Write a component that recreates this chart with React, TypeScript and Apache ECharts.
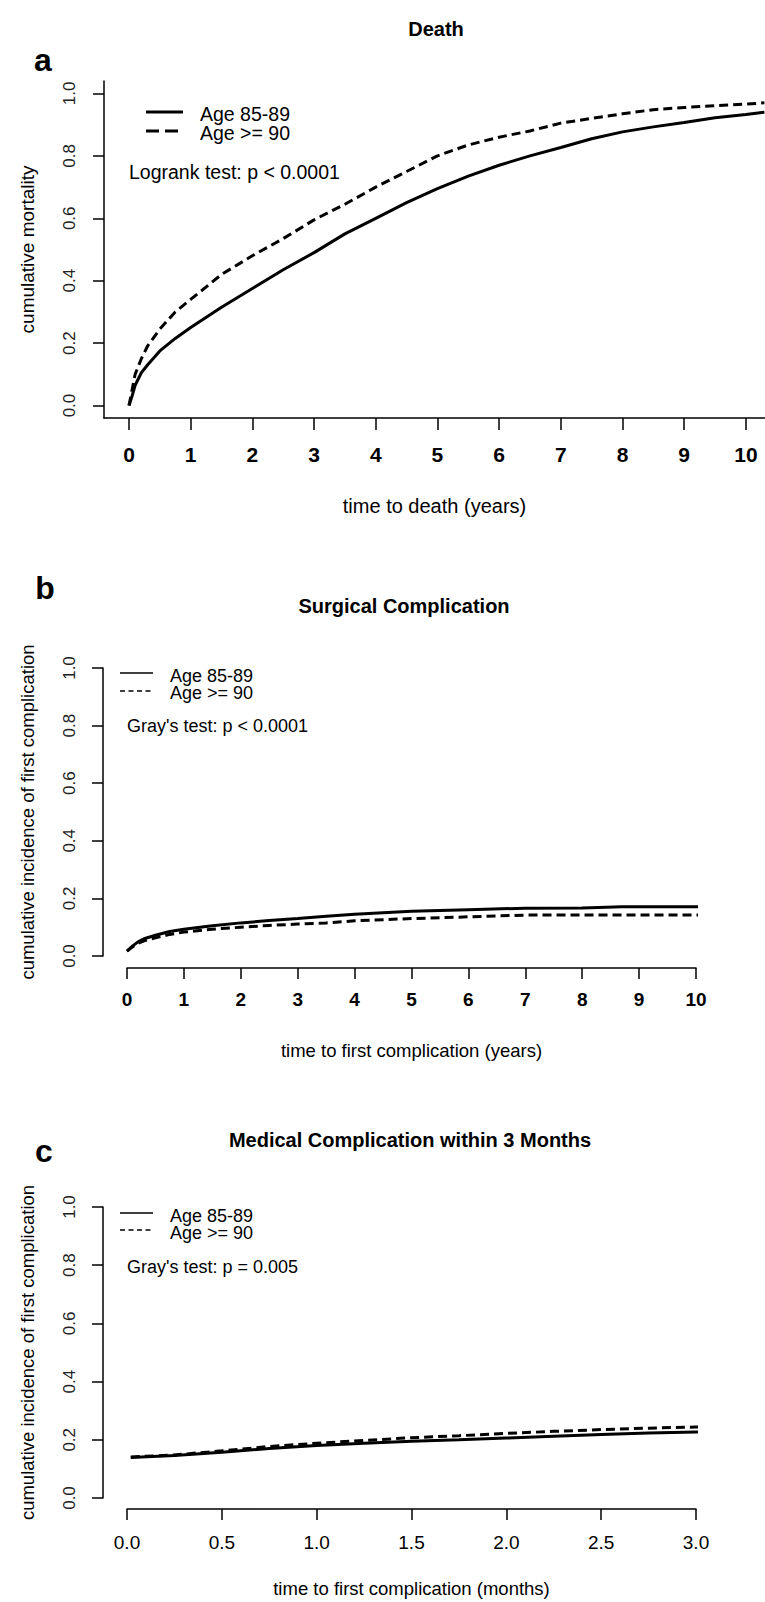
import React, { useEffect, useRef } from "react";
import * as echarts from "echarts";

// ---------- data ----------
// Panel a: Death (years)
const deathTimes = [0, 0.05, 0.1, 0.2, 0.3, 0.5, 0.75, 1, 1.5, 2, 2.5, 3, 3.5, 4, 4.5, 5, 5.5, 6, 6.5, 7, 7.5, 8, 8.5, 9, 9.5, 10, 10.3];
const deathAge85 = [0, 0.03, 0.065, 0.105, 0.13, 0.175, 0.215, 0.25, 0.315, 0.375, 0.435, 0.49, 0.55, 0.6, 0.65, 0.695, 0.735, 0.77, 0.8, 0.827, 0.855, 0.877, 0.893, 0.907, 0.922, 0.933, 0.94];
const deathAge90 = [0, 0.05, 0.1, 0.15, 0.19, 0.245, 0.3, 0.34, 0.42, 0.48, 0.535, 0.595, 0.645, 0.7, 0.75, 0.8, 0.835, 0.86, 0.88, 0.905, 0.92, 0.935, 0.948, 0.955, 0.961, 0.966, 0.97];

// Panel b: Surgical complication (years)
const surgTimes = [0, 0.1, 0.2, 0.3, 0.5, 0.75, 1, 1.5, 2, 2.5, 3, 3.5, 4, 4.5, 5, 6, 7, 8, 8.7, 9, 10, 10.4];
const surgAge85 = [0.017, 0.035, 0.05, 0.06, 0.072, 0.085, 0.093, 0.105, 0.115, 0.123, 0.13, 0.138, 0.145, 0.15, 0.155, 0.161, 0.166, 0.167, 0.171, 0.171, 0.171, 0.171];
const surgAge90 = [0.017, 0.032, 0.045, 0.053, 0.063, 0.075, 0.083, 0.093, 0.1, 0.106, 0.111, 0.115, 0.122, 0.126, 0.13, 0.136, 0.142, 0.142, 0.142, 0.142, 0.142, 0.142];

// Panel c: Medical complication within 3 months (months)
const medTimes = [0.02, 0.25, 0.5, 0.75, 1.0, 1.25, 1.5, 1.75, 2.0, 2.25, 2.5, 2.75, 3.0, 3.12];
const medAge85 = [0.139, 0.146, 0.157, 0.17, 0.18, 0.188, 0.195, 0.2, 0.206, 0.212, 0.218, 0.223, 0.227, 0.227];
const medAge90 = [0.141, 0.148, 0.162, 0.177, 0.188, 0.198, 0.207, 0.214, 0.222, 0.229, 0.235, 0.24, 0.244, 0.244];

// tick labels
const yTicks = [0, 0.2, 0.4, 0.6, 0.8, 1.0];
const xTicksYears = [0, 1, 2, 3, 4, 5, 6, 7, 8, 9, 10];
const xTicksMonths = [0, 0.5, 1.0, 1.5, 2.0, 2.5, 3.0];

const seriesNames = ["Age 85-89", "Age >= 90"];
const panelTitles = ["Death", "Surgical Complication", "Medical Complication within 3 Months"];
const panelLetters = ["a", "b", "c"];
const testTexts = ["Logrank test: p < 0.0001", "Gray's test: p < 0.0001", "Gray's test: p = 0.005"];
const xNames = ["time to death (years)", "time to first complication (years)", "time to first complication (months)"];
const yNames = ["cumulative mortality", "cumulative incidence of first complication", "cumulative incidence of first complication"];

const FONT = '"Liberation Sans", Arial, Helvetica, sans-serif';

const pairs = (xs: number[], ys: number[]) => xs.map((x, i) => [x, ys[i]]);

export default function App() {
  const ref = useRef<HTMLDivElement>(null);

  useEffect(() => {
    if (!ref.current) return;
    const chart = echarts.init(ref.current, undefined, { renderer: "svg" });

    const axisLineStyle = { color: "#000", width: 1.5 };
    const yAxisCommon = (extra: any) => ({
      type: "value",
      splitLine: { show: false },
      axisLine: { show: true, onZero: false, lineStyle: axisLineStyle },
      nameLocation: "middle",
      nameRotate: 90,
      nameTextStyle: { fontSize: 19, color: "#000", fontFamily: FONT },
      ...extra,
    });
    const yLabel = (extra: any = {}) => ({
      rotate: 90,
      margin: 25,
      fontSize: 17,
      color: "#222",
      fontFamily: FONT,
      formatter: (v: number) => v.toFixed(1),
      ...extra,
    });

    const xAxisCommon = (extra: any) => ({
      type: "value",
      splitLine: { show: false },
      axisLine: { show: true, onZero: false, lineStyle: axisLineStyle },
      nameLocation: "middle",
      nameTextStyle: { fontSize: 18.5, color: "#000", fontFamily: FONT },
      ...extra,
    });

    const line = (name: string, data: number[][], xi: number, dashed: boolean, clip: boolean) => ({
      type: "line",
      name,
      xAxisIndex: xi,
      yAxisIndex: xi,
      data,
      showSymbol: false,
      symbol: "none",
      clip,
      lineStyle: { color: "#000", width: 3, type: dashed ? [9, 5] : "solid" },
    });

    const txt = (x: number, y: number, text: string, size: number, weight: string, align = "left") => ({
      type: "text",
      x,
      y,
      style: {
        text,
        fill: "#000",
        fontSize: size,
        fontWeight: weight,
        fontFamily: FONT,
        align,
        verticalAlign: "middle",
      },
    });
    const seg = (x1: number, x2: number, y: number, w: number, dash: any) => ({
      type: "line",
      shape: { x1, y1: y, x2, y2: y },
      style: { stroke: "#000", lineWidth: w, lineDash: dash },
    });

    const option: any = {
      animation: false,
      grid: [
        { left: 104, top: 81, width: 661, height: 337 },
        { left: 127, top: 668, width: 569, height: 288 },
        { left: 127, top: 1207, width: 569, height: 291 },
      ],
      xAxis: [
        xAxisCommon({
          gridIndex: 0,
          min: -0.405,
          max: 10.31,
          axisTick: { show: true, length: 12, customValues: xTicksYears, lineStyle: axisLineStyle },
          axisLabel: { customValues: xTicksYears, fontSize: 21, fontWeight: "bold", margin: 26, color: "#000", fontFamily: FONT },
          name: xNames[0],
          nameGap: 78,
          nameTextStyle: { fontSize: 20, color: "#000", fontFamily: FONT },
        }),
        xAxisCommon({
          gridIndex: 1,
          min: 0,
          max: 10,
          interval: 1,
          offset: 12,
          axisTick: { show: true, length: 11, lineStyle: axisLineStyle },
          axisLabel: { fontSize: 19, fontWeight: "bold", margin: 22, color: "#000", fontFamily: FONT },
          name: xNames[1],
          nameGap: 73,
        }),
        xAxisCommon({
          gridIndex: 2,
          min: 0,
          max: 3,
          interval: 0.5,
          offset: 11,
          axisTick: { show: true, length: 11, lineStyle: axisLineStyle },
          axisLabel: { fontSize: 19, margin: 24, color: "#000", fontFamily: FONT, formatter: (v: number) => v.toFixed(1) },
          name: xNames[2],
          nameGap: 70,
        }),
      ],
      yAxis: [
        yAxisCommon({
          gridIndex: 0,
          min: -0.04,
          max: 1.04,
          axisTick: { show: true, length: 11, customValues: yTicks, lineStyle: axisLineStyle },
          axisLabel: yLabel({ customValues: yTicks, margin: 26 }),
          name: yNames[0],
          nameGap: 67,
        }),
        yAxisCommon({
          gridIndex: 1,
          min: 0,
          max: 1,
          interval: 0.2,
          offset: 24,
          axisTick: { show: true, length: 11, lineStyle: axisLineStyle },
          axisLabel: yLabel(),
          name: yNames[1],
          nameGap: 66,
          nameTextStyle: { fontSize: 18.5, color: "#000", fontFamily: FONT },
        }),
        yAxisCommon({
          gridIndex: 2,
          min: 0,
          max: 1,
          interval: 0.2,
          offset: 24,
          axisTick: { show: true, length: 11, lineStyle: axisLineStyle },
          axisLabel: yLabel(),
          name: yNames[2],
          nameGap: 66,
          nameTextStyle: { fontSize: 18.5, color: "#000", fontFamily: FONT },
        }),
      ],
      series: [
        line(seriesNames[0], pairs(deathTimes, deathAge85), 0, false, true),
        line(seriesNames[1], pairs(deathTimes, deathAge90), 0, true, true),
        line(seriesNames[0], pairs(surgTimes, surgAge85), 1, false, false),
        line(seriesNames[1], pairs(surgTimes, surgAge90), 1, true, false),
        line(seriesNames[0], pairs(medTimes, medAge85), 2, false, false),
        line(seriesNames[1], pairs(medTimes, medAge90), 2, true, false),
      ],
      graphic: [
        // titles and panel letters
        txt(436, 29, panelTitles[0], 20, "bold", "center"),
        txt(43, 60, panelLetters[0], 32, "bold", "center"),
        txt(404, 606, panelTitles[1], 20, "bold", "center"),
        txt(45, 588, panelLetters[1], 32, "bold", "center"),
        txt(410, 1140, panelTitles[2], 20, "bold", "center"),
        txt(44, 1151, panelLetters[2], 32, "bold", "center"),
        // legend a
        seg(146, 183, 112, 3, null),
        seg(146, 183, 131, 3, [13, 6]),
        txt(200, 114, seriesNames[0], 19.5, "normal"),
        txt(200, 133, seriesNames[1], 19.5, "normal"),
        txt(129, 172, testTexts[0], 19.5, "normal"),
        // legend b
        seg(120, 153, 673, 1.5, null),
        seg(120, 153, 691, 1.5, [5, 3.5]),
        txt(170, 676, seriesNames[0], 18, "normal"),
        txt(170, 693, seriesNames[1], 18, "normal"),
        txt(127, 726, testTexts[1], 18, "normal"),
        // legend c
        seg(120, 153, 1213, 1.5, null),
        seg(120, 153, 1230, 1.5, [5, 3.5]),
        txt(170, 1216, seriesNames[0], 18, "normal"),
        txt(170, 1233, seriesNames[1], 18, "normal"),
        txt(127, 1267, testTexts[2], 18, "normal"),
      ],
    };

    chart.setOption(option);
    return () => chart.dispose();
  }, []);

  return (
    <div
      ref={ref}
      style={{ position: "absolute", left: 0, top: 0, width: 765, height: 1602, background: "#fff" }}
    />
  );
}
